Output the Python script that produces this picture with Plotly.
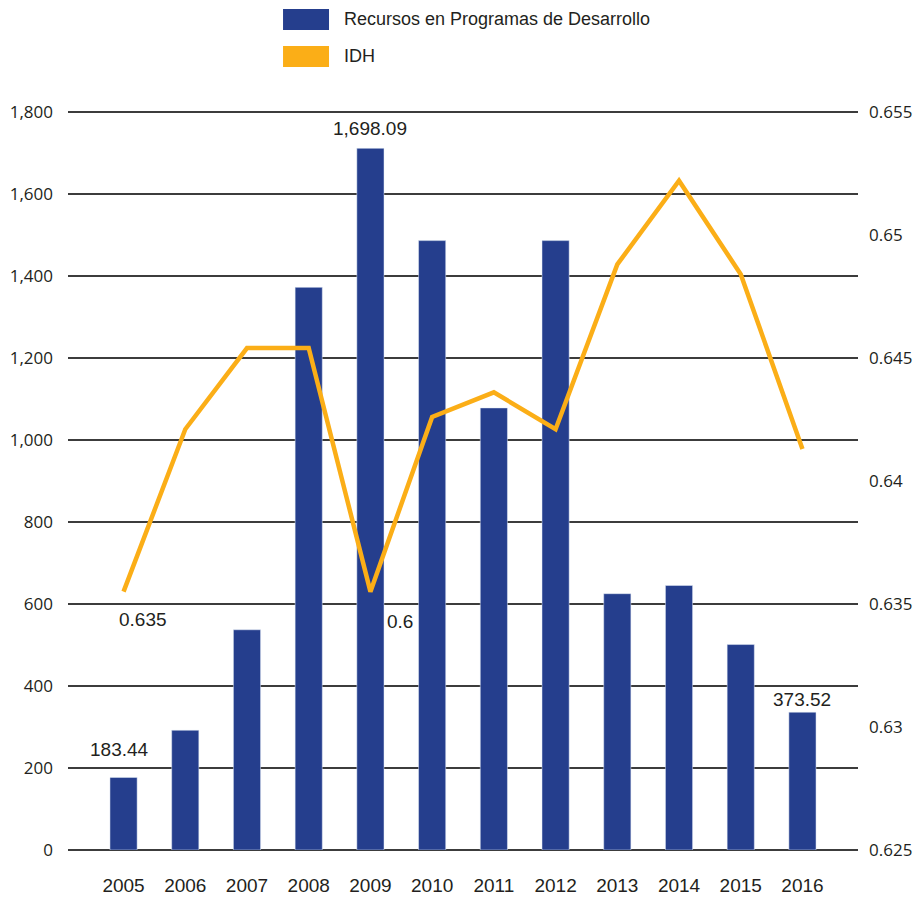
import plotly.graph_objects as go

# ---- data ----
years = ["2005", "2006", "2007", "2008", "2009", "2010",
         "2011", "2012", "2013", "2014", "2015", "2016"]
recursos = [177, 292, 537, 1372, 1711, 1486, 1078, 1486, 625, 645, 501, 336]
idh = [0.6355, 0.6421, 0.6454, 0.6454, 0.6355, 0.6426,
       0.6436, 0.6421, 0.6488, 0.6522, 0.6484, 0.6413]
bar_label_years = ["2005", "2009", "2016"]
bar_label_texts = ["183.44", "1,698.09", "373.52"]
line_label_years = ["2005", "2009"]
line_label_texts = ["0.635", "0.6"]
name_bar = "Recursos en Programas de Desarrollo"
name_line = "IDH"
left_ticks = [0, 200, 400, 600, 800, 1000, 1200, 1400, 1600, 1800]
right_ticks = [0.625, 0.63, 0.635, 0.64, 0.645, 0.65, 0.655]

# ---- styles ----
BLUE = "#253e8d"
ORANGE = "#fbae17"
TXT = "#231f20"
NARROW = "Liberation Sans, Arial, sans-serif"
REG = "Open Sans, sans-serif"
bar_label_shift = [(-4, 15), (0, 7), (0, 0)]
line_label_shift = [(19, -28), (30, -30)]
pad = 1.0025  # tiny headroom so the top gridline is drawn

fig = go.Figure()
fig.add_trace(go.Bar(x=years, y=recursos, name=name_bar, marker_color=BLUE,
                     width=0.44, showlegend=False, yaxis="y"))
fig.add_trace(go.Scatter(x=years, y=idh, name=name_line, mode="lines",
                         line=dict(color=ORANGE, width=4.5), showlegend=False,
                         yaxis="y2"))

ann = []
for yr, t, (dx, dy) in zip(bar_label_years, bar_label_texts, bar_label_shift):
    i = years.index(yr)
    ann.append(dict(x=i, y=recursos[i], xref="x", yref="y", text=t,
                    showarrow=False, yanchor="bottom", xshift=dx, yshift=dy,
                    font=dict(family=NARROW, size=19, color=TXT)))
for yr, t, (dx, dy) in zip(line_label_years, line_label_texts, line_label_shift):
    i = years.index(yr)
    ann.append(dict(x=i, y=idh[i], xref="x", yref="y2", text=t,
                    showarrow=False, xshift=dx, yshift=dy,
                    font=dict(family=NARROW, size=19, color=TXT)))

# custom legend
shapes = [
    dict(type="rect", xref="paper", yref="paper", x0=0.2722, x1=0.3304,
         y0=1.108, y1=1.1365, fillcolor=BLUE, line=dict(width=0)),
    dict(type="rect", xref="paper", yref="paper", x0=0.2722, x1=0.3304,
         y0=1.058, y1=1.0865, fillcolor=ORANGE, line=dict(width=0)),
]
ann.append(dict(x=0.347, y=1.1223, xref="paper", yref="paper", text=name_bar,
                showarrow=False, xanchor="left", yanchor="middle",
                font=dict(family=NARROW, size=18, color=TXT)))
ann.append(dict(x=0.347, y=1.0723, xref="paper", yref="paper", text=name_line,
                showarrow=False, xanchor="left", yanchor="middle",
                font=dict(family=NARROW, size=18, color=TXT)))

# page body has an 8px margin, so the figure is drawn 8px smaller/offset
fig.update_layout(
    width=913, height=891,
    margin=dict(l=60, r=63, t=102, b=49),
    paper_bgcolor="white", plot_bgcolor="white",
    annotations=ann, shapes=shapes,
    xaxis=dict(type="category", range=[-0.9, 11.9], showgrid=False,
               showline=False, ticks="", ticklabelstandoff=22, automargin=False,
               tickfont=dict(family=NARROW, size=19, color=TXT)),
    yaxis=dict(range=[0, 1800 * pad], tickvals=left_ticks, tickformat=",",
               showgrid=True, gridcolor="#3c3c3c", gridwidth=1.7,
               zeroline=True, zerolinecolor="#3c3c3c", zerolinewidth=1.8,
               showline=False, ticks="", ticklabelstandoff=14, automargin=False,
               tickfont=dict(family=REG, size=17, color=TXT)),
    yaxis2=dict(range=[0.625, 0.625 + 0.03 * pad], tickvals=right_ticks,
                overlaying="y", side="right", showgrid=False, zeroline=False,
                showline=False, ticks="", ticklabelstandoff=10, automargin=False,
                tickfont=dict(family=REG, size=17, color=TXT)),
    bargap=0.5,
)

fig.write_html("out.html")
